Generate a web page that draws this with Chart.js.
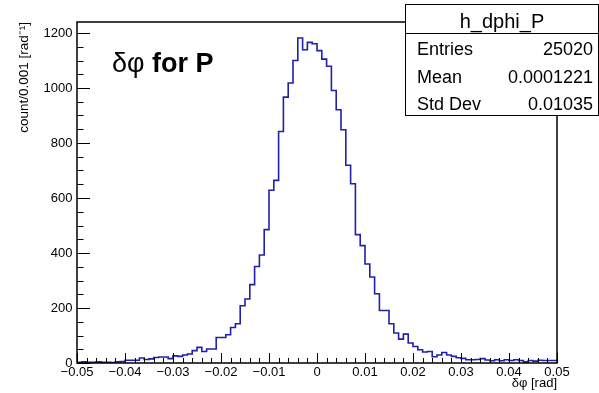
<!DOCTYPE html>
<html lang="en">
<head>
<meta charset="UTF-8" />
<title>h_dphi_P</title>
<script src="https://cdn.jsdelivr.net/npm/chart.js"></script>
<style>
  html, body { margin: 0; padding: 0; background: #fff; }
  .wrap { width: 599px; height: 393px; position: relative; }
</style>
</head>
<body>
<div class="wrap"><canvas id="hist"></canvas></div>
<script>
  // histogram: 100 bins from -0.05 to 0.05
  const binLow = -0.05;
  const binWidth = 0.001;
  const counts = [
    8, 3, 4, 3, 3, 4, 3, 3, 2, 4,
    5, 10, 10, 10, 18, 13, 15, 20, 22, 22,
    16, 26, 24, 29, 33, 45, 57, 42, 51, 51,
    93, 93, 103, 129, 143, 208, 233, 285, 351, 393,
    485, 628, 664, 842, 967, 1018, 1100, 1182, 1139, 1166,
    1161, 1136, 1105, 1079, 991, 921, 848, 719, 652, 467,
    427, 360, 313, 252, 191, 191, 143, 109, 87, 105,
    73, 60, 48, 40, 42, 23, 29, 38, 29, 24,
    19, 17, 12, 12, 13, 16, 11, 8, 12, 8,
    12, 9, 12, 9, 4, 9, 7, 10, 9, 9
  ];

  const xTickValues = [-0.05, -0.04, -0.03, -0.02, -0.01, 0, 0.01, 0.02, 0.03, 0.04, 0.05];
  const yTickValues = [0, 200, 400, 600, 800, 1000, 1200];
  const xMinorStep = 0.002;
  const yMinorStep = 50;
  const yMax = 1240;

  const histName = 'h_dphi_P';
  const statLabels = ['Entries', 'Mean', 'Std Dev'];
  const statValues = ['25020', '0.0001221', '0.01035'];

  const FONT = '"Liberation Sans", Arial, Helvetica, sans-serif';

  const points = counts.map((c, i) => ({ x: binLow + i * binWidth, y: c }));
  points.push({ x: binLow + counts.length * binWidth, y: counts[counts.length - 1] });

  // ROOT style frame, inward ticks, label and stats box
  const rootDecor = {
    id: 'rootDecor',
    afterDatasetsDraw(chart) {
      const { ctx, chartArea: a, scales: { x, y } } = chart;
      ctx.save();
      ctx.strokeStyle = '#000';
      ctx.lineWidth = 1;
      ctx.beginPath();
      const xMin = xTickValues[0], xMaxV = xTickValues[xTickValues.length - 1];
      const nx = Math.round((xMaxV - xMin) / xMinorStep);
      for (let k = 0; k <= nx; k++) {
        const px = Math.round(x.getPixelForValue(xMin + k * xMinorStep)) + 0.5;
        const len = k % 5 === 0 ? 10 : 5;
        ctx.moveTo(px, a.bottom);
        ctx.lineTo(px, a.bottom - len);
      }
      for (let v = 0; v <= yMax; v += yMinorStep) {
        const py = Math.round(y.getPixelForValue(v)) + 0.5;
        const len = v % 200 === 0 ? 13 : 6.5;
        ctx.moveTo(a.left, py);
        ctx.lineTo(a.left + len, py);
      }
      ctx.stroke();
      ctx.lineWidth = 1.5;
      ctx.strokeRect(a.left, a.top, a.right - a.left, a.bottom - a.top);
      ctx.restore();
    },
    afterDraw(chart) {
      const { ctx } = chart;
      ctx.save();
      ctx.fillStyle = '#000';
      ctx.textBaseline = 'alphabetic';
      ctx.textAlign = 'left';
      ctx.font = '27px ' + FONT;
      ctx.fillText('δφ', 112, 72);
      const w = ctx.measureText('δφ').width;
      ctx.font = 'bold 27px ' + FONT;
      ctx.fillText(' for P', 112 + w, 72);

      // stats box
      ctx.fillStyle = '#fff';
      ctx.fillRect(405, 4, 194, 112);
      ctx.strokeStyle = '#000';
      ctx.lineWidth = 1;
      ctx.strokeRect(405.5, 4.5, 193, 111);
      ctx.beginPath();
      ctx.moveTo(405.5, 33.5);
      ctx.lineTo(598.5, 33.5);
      ctx.stroke();
      ctx.fillStyle = '#000';
      ctx.font = '20px ' + FONT;
      ctx.textAlign = 'center';
      ctx.fillText(histName, 502, 28);
      ctx.font = '18px ' + FONT;
      const rowY = [55, 83, 110];
      statLabels.forEach((lab, i) => {
        ctx.textAlign = 'left';
        ctx.fillText(lab, 417, rowY[i]);
        ctx.textAlign = 'right';
        ctx.fillText(statValues[i], 593, rowY[i]);
      });
      ctx.restore();
    }
  };

  new Chart(document.getElementById('hist'), {
    type: 'line',
    data: {
      datasets: [{
        data: points,
        stepped: 'after',
        borderColor: '#2020a8',
        borderWidth: 1.6,
        pointRadius: 0,
        fill: false
      }]
    },
    options: {
      responsive: true,
      maintainAspectRatio: false,
      animation: false,
      layout: { padding: { top: 22, right: 42, left: 0, bottom: 0 } },
      plugins: { legend: { display: false }, tooltip: { enabled: false } },
      scales: {
        x: {
          type: 'linear',
          min: xTickValues[0],
          max: xTickValues[xTickValues.length - 1],
          grid: { display: false, drawTicks: false },
          border: { display: false },
          afterBuildTicks: s => { s.ticks = xTickValues.map(v => ({ value: v })); },
          afterFit: s => { s.height = 30; },
          ticks: {
            padding: 2,
            maxRotation: 0,
            autoSkip: false,
            color: '#000',
            font: { family: FONT, size: 13 },
            callback: v => (v === 0 ? '0' : v.toFixed(2)).replace('-', '\u2212')
          },
          title: {
            display: true,
            text: 'δφ [rad]',
            align: 'end',
            color: '#000',
            font: { family: FONT, size: 13 },
            padding: { top: 0, bottom: 2 }
          }
        },
        y: {
          min: 0,
          max: yMax,
          grid: { display: false, drawTicks: false },
          border: { display: false },
          afterBuildTicks: s => { s.ticks = yTickValues.map(v => ({ value: v })); },
          afterFit: s => { s.width = 77; },
          ticks: {
            padding: 4.5,
            autoSkip: false,
            color: '#000',
            font: { family: FONT, size: 13 },
            callback: v => String(v)
          },
          title: {
            display: true,
            text: 'count/0.001 [rad⁻¹]',
            align: 'end',
            color: '#000',
            font: { family: FONT, size: 13.5 },
            padding: { top: 16, bottom: 0 }
          }
        }
      }
    },
    plugins: [rootDecor]
  });
</script>
</body>
</html>
